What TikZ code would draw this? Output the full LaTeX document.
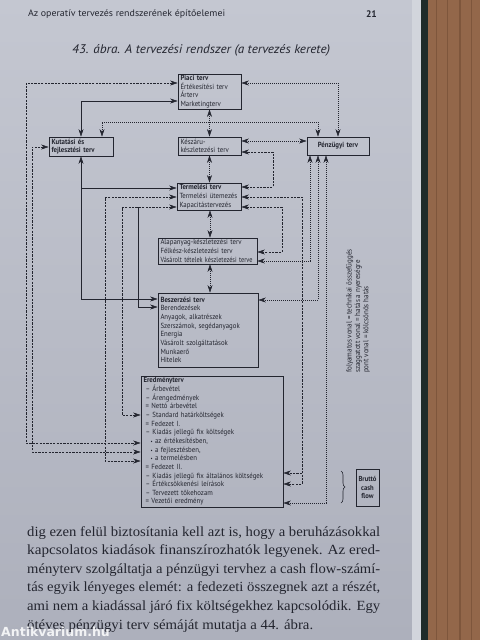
\documentclass[tikz,border=0pt]{standalone}
\usepackage{fontspec}
\usepackage{graphicx}
\setmainfont{Liberation Serif}
\setsansfont{PT Sans}
\newfontfamily\diagfont[FakeStretch=0.92]{PT Sans}
\newfontfamily\markfont{DejaVu Sans}
\usetikzlibrary{arrows.meta,decorations.pathreplacing}
\definecolor{ink}{HTML}{23252F}
\definecolor{pagetop}{HTML}{C4C7D1}
\definecolor{pagebot}{HTML}{ADB0BC}
\definecolor{pageedge}{HTML}{D2D5DC}
\definecolor{spine}{HTML}{1E2B29}
\definecolor{wood}{HTML}{93674A}
\definecolor{wooddark}{HTML}{7E563C}
\newcommand{\fitw}[2]{\resizebox{#1}{\height}{#2}}
\begin{document}
\begin{tikzpicture}[x=1pt,y=-1pt,
  box/.style={draw=ink, line width=0.6pt, inner xsep=2.5pt, inner ysep=0pt, align=left,
    font=\diagfont\fontsize{7.4}{8.65}\selectfont, text=ink},
  con/.style={draw=ink, line width=0.5pt},
  dsh/.style={con, dash pattern=on 2.2pt off 1.2pt},
  dot/.style={con, dash pattern=on 0.8pt off 1.2pt},
  fw/.style={-{Stealth[length=7.5pt,width=5pt,inset=2.2pt]}},
  bw/.style={{Stealth[length=7.5pt,width=5pt,inset=2.2pt]}-{Stealth[length=7.5pt,width=5pt,inset=2.2pt]}},
  body/.style={anchor=base west, inner sep=0pt, font=\rmfamily\fontsize{14}{16}\selectfont, text=ink}
]
\useasboundingbox (0,0) rectangle (480,640);
% page and background
\shade[top color=pagetop, bottom color=pagebot] (0,0) rectangle (412,640);
\fill[pageedge] (412,0) rectangle (421,640);
\fill[spine] (421,0) rectangle (428,640);
\fill[wood] (428,0) rectangle (480,640);
\foreach \xx/\ww in {436/1.2,447/0.8,459/1.5,471/1}{\fill[wooddark] (\xx,0) rectangle (\xx+\ww,640);}

% header and title
\node[anchor=west, inner sep=0pt, font=\sffamily\fontsize{9.4}{10}\selectfont, text=ink] (hdr) at (28,14) {\fitw{197pt}{Az operatív tervezés rendszerének építőelemei}};
\node[anchor=east, inner sep=0pt, font=\sffamily\bfseries\fontsize{9.5}{10}\selectfont, text=ink] (pg) at (377,14) {21};
\node[anchor=west, inner sep=0pt, font=\sffamily\itshape\fontsize{12.5}{13}\selectfont, text=ink] (title) at (72,50) {\fitw{258pt}{43. ábra. A tervezési rendszer (a tervezés kerete)}};

% boxes
\node[box, minimum width=63pt, minimum height=35pt, text width=58pt] (piaci) at (209.5,91.5)
  {\textbf{Piaci terv}\\Értékesítési terv\\Árterv\\Marketingterv};
\node[box, minimum width=63pt, minimum height=18pt, text width=58pt] (keszaru) at (209.5,146)
  {Készáru-\\készletezési terv};
\node[box, minimum width=62pt, minimum height=18pt, text width=57pt, align=center] (penzugyi) at (338,146)
  {\textbf{Pénzügyi terv}};
\node[box, minimum width=64pt, minimum height=19pt, text width=59pt] (kutatasi) at (81,146.5)
  {\textbf{Kutatási és}\\\textbf{fejlesztési terv}};
\node[box, minimum width=64pt, minimum height=27pt, text width=59pt] (termelesi) at (209,196.5)
  {\textbf{Termelési terv}\\Termelési ütemezés\\Kapacitástervezés};
\node[box, minimum width=99pt, minimum height=26pt, text width=94pt] (alapanyag) at (207.5,251)
  {Alapanyag-készletezési terv\\Félkész-készletezési terv\\\fitw{92pt}{Vásárolt tételek készletezési terve}};
\node[box, minimum width=100pt, minimum height=74pt, text width=95pt] (beszerzesi) at (208,330)
  {\textbf{Beszerzési terv}\\Berendezések\\Anyagok, alkatrészek\\Szerszámok, segédanyagok\\Energia\\Vásárolt szolgáltatások\\Munkaerő\\Hitelek};
\node[box, minimum width=142pt, minimum height=131pt, text width=137pt] (eredmeny) at (212,441.5)
  {\textbf{Eredményterv}\\
   \hspace*{2pt}– Árbevétel\\
   \hspace*{2pt}– Árengedmények\\
   \hspace*{2pt}= Nettó árbevétel\\
   \hspace*{2pt}– Standard határköltségek\\
   \hspace*{2pt}= Fedezet I.\\
   \hspace*{2pt}– Kiadás jellegű fix költségek\\
   \hspace*{7pt}{\tiny\textbullet} az értékesítésben,\\
   \hspace*{7pt}{\tiny\textbullet} a fejlesztésben,\\
   \hspace*{7pt}{\tiny\textbullet} a termelésben\\
   \hspace*{2pt}= Fedezet II.\\
   \hspace*{2pt}– Kiadás jellegű fix általános költségek\\
   \hspace*{2pt}– Értékcsökkenési leírások\\
   \hspace*{2pt}– Tervezett tőkehozam\\
   \hspace*{2pt}= Vezetői eredmény};
\node[box, minimum width=23pt, minimum height=37pt, text width=20pt, inner xsep=1.5pt, align=center,
  font=\diagfont\bfseries\fontsize{7.2}{8.6}\selectfont] (brutto) at (367.5,487.5)
  {Bruttó\\cash\\flow};

% legend
\node[rotate=90, anchor=north west, inner sep=0pt, align=left, text=ink,
  font=\diagfont\fontsize{7.6}{8.4}\selectfont] (legend) at (346,373)
  {folyamatos vonal = technikai összefüggés\\szaggatott vonal = hatás a nyereségre\\pont vonal = kölcsönös hatás};

% brace
\draw[ink, line width=0.6pt, decorate, decoration={brace, amplitude=4pt}] (341,471) -- (341,503);

% stacked double arrows
\draw[dot, bw] (piaci.south) -- (keszaru.north);
\draw[dot, bw] (keszaru.south) -- (termelesi.north -| keszaru.south);
\draw[dot, bw] (termelesi.south -| 210,0) -- (alapanyag.north -| 210,0);
\draw[dot, bw] (alapanyag.south -| 210,0) -- (beszerzesi.north -| 210,0);

% top connectors
\draw[dsh, bw] (piaci.west |- 0,83) -| (26,443) -- (eredmeny.west |- 0,443);
\draw[con, bw] (piaci.west |- 0,101) -| (kutatasi.north);
\draw[dot, bw] (kutatasi.north -| 102,0) -- (102,122) -- (318,122) -- (penzugyi.north -| 318,0);
\draw[dot, bw] (piaci.east |- 0,83) -- (338,83) -- (penzugyi.north -| 338,0);
\draw[dot, bw] (keszaru.east |- 0,141) -- (penzugyi.west |- 0,141);
\draw[dsh, bw] (termelesi.east |- 0,187) -- (273,187) -- (273,152) -- (keszaru.east |- 0,152);

% left side
\draw[dsh, bw] (kutatasi.west |- 0,147) -- (32,147) -- (32,452) -- (eredmeny.west |- 0,452);
\draw[con, bw] (kutatasi.south) -- (81,299) -- (beszerzesi.west |- 0,299);
\draw[con, fw] (81,188) -- (termelesi.west |- 0,188);
\draw[dsh, bw] (termelesi.west |- 0,197) -- (105,197) -- (105,461) -- (eredmeny.west |- 0,461);
\draw[dsh, bw] (termelesi.west |- 0,207) -- (122,207) -- (122,415) -- (eredmeny.west |- 0,415);
\draw[con, fw] (138,207) -- (138,307) -- (beszerzesi.west |- 0,307);

% right side
\draw[dsh, bw] (termelesi.east |- 0,207) -- (282,207) -- (282,252) -- (alapanyag.east |- 0,252);
\draw[dsh, bw] (termelesi.east |- 0,197) -- (302,197) -- (302,484) -- (eredmeny.east |- 0,484);
\draw[dsh, fw] (302,473) -- (eredmeny.east |- 0,473);
\draw[dot, bw] (penzugyi.south -| 310,0) -- (310,261) -- (alapanyag.east |- 0,261);
\draw[dot, bw] (penzugyi.south -| 318,0) -- (318,300) -- (beszerzesi.east |- 0,300);
\draw[dot, bw] (penzugyi.south -| 326,0) -- (326,503) -- (eredmeny.east |- 0,503);

% body text
\node[body] (l1) at (27,536) {\fitw{353pt}{dig ezen felül biztosítania kell azt is, hogy a beruházásokkal}};
\node[body] (l2) at (27,554.6) {\fitw{353pt}{kapcsolatos kiadások finanszírozhatók legyenek. Az ered-}};
\node[body] (l3) at (27,573.2) {\fitw{353pt}{ményterv szolgáltatja a pénzügyi tervhez a cash flow-számí-}};
\node[body] (l4) at (27,591.8) {\fitw{353pt}{tás egyik lényeges elemét: a fedezeti összegnek azt a részét,}};
\node[body] (l5) at (27,610.4) {\fitw{353pt}{ami nem a kiadással járó fix költségekhez kapcsolódik. Egy}};
\node[body] (l6) at (27,629) {\fitw{286pt}{ötéves pénzügyi terv sémáját mutatja a 44. ábra.}};

% watermark
\node[anchor=base west, inner sep=0pt, text=white, opacity=0.85, font=\markfont\bfseries\fontsize{12.5}{14}\selectfont] (wm) at (1,636) {Antikvarium.hu};
\end{tikzpicture}
\end{document}
